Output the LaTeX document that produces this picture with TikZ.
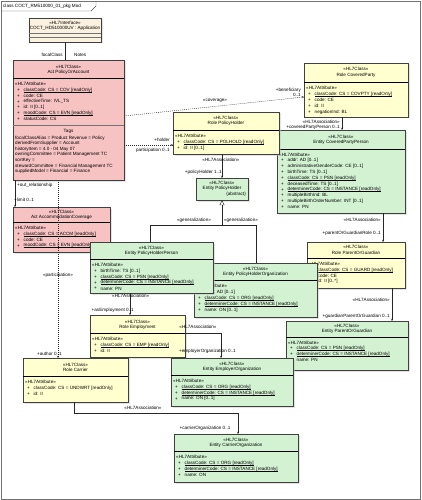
\documentclass[tikz,border=0pt]{standalone}
\usepackage{fontspec}
\setmainfont{Liberation Sans}
\usetikzlibrary{shadows,calc,positioning,arrows.meta}

\definecolor{ifacefill}{HTML}{FBF1DF}
\definecolor{actfill}{HTML}{F6C2C2}
\definecolor{rolefill}{HTML}{FFFFCF}
\definecolor{entfill}{HTML}{D2F2D2}

\tikzset{
  classbox/.style={draw=black!75, line width=.4pt, inner sep=0pt,
    drop shadow={shadow xshift=1.5pt, shadow yshift=-1.5pt, fill=black!22}},
  txt/.style={font=\fontsize{4.6}{5}\selectfont, inner sep=0pt},
  attr/.style={txt, anchor=west},
  sepline/.style={draw=black!55, line width=.3pt},
  hdrline/.style={draw=black, line width=.6pt},
  assoc/.style={draw=black!85, line width=.4pt, -{To[length=2.2pt,width=2.4pt]}},
  partic/.style={assoc, dash pattern=on 1pt off 1pt},
  genline/.style={draw=black!85, line width=.4pt},
}

% thin underline for static attributes
\newcommand\ulin[1]{\setbox0\hbox{#1}\leavevmode\rlap{\rule[-0.8pt]{\wd0}{0.3pt}}\box0}
% class box from its corners
\newcommand\umlbox[6]{%
  \node[classbox, fill=#2, minimum width={(#5-#3)*1pt}, minimum height={(#6-#4)*1pt}]
    (#1) at ({(#3+#5)/2},{(#4+#6)/2}) {};}
% attribute rows: left x, first y, list
\newcommand\attrrows[3]{%
  \foreach \t [count=\i from 0] in {#3} {
    \node[attr] at (#1+4,#2+\i*5.85) {+};
    \node[attr] at (#1+10.5,#2+\i*5.85) {\t};
  }}

\begin{document}
\begin{tikzpicture}[x=1pt,y=-1pt]
\useasboundingbox (0,0) rectangle (421,500);
% frame
\draw[black!55, line width=.7pt] (1,1) rectangle (420,499);
\draw[black!70, line width=.4pt] (1,11) -- (91,11) -- (96,6) -- (96,1);
\node[attr] (frametitle) at (3,6) {class COCT\_RM510000\_01\_pkg Mod};

% boxes
\umlbox{iface}{ifacefill}{29}{18}{101}{42}
\node[txt] at (65,23) {«HL7Interface»};
\node[txt] at (65,28.5) {COCT\_HD510000UV : Application};
\draw[sepline] (29,33) -- (101,33);
\draw[sepline] (29,37) -- (101,37);

\umlbox{polAcct}{actfill}{13}{60}{124}{180}
\node[txt] at (68.5,67) {«HL7Class»};
\node[txt] at (68.5,72.5) {Act PolicyOrAccount};
\draw[hdrline] (13,78) -- (124,78);
\node[attr] at (15,84) {«HL7Attribute»};
\attrrows{13}{90}{\ulin{classCode: CS = COV [readOnly]}, code: CE, effectiveTime: IVL\_TS,
  {id: II [0..1]}, \ulin{moodCode: CS = EVN [readOnly]}, statusCode: CS}
\draw[sepline] (13,125) -- (124,125);
\node[txt] at (68.5,131) {Tags};
\foreach \t [count=\i from 0] in {focalClassAlias = Product Revenue = Policy,
    derivedFromSupplier = Account,
    historyItem = 4.0 - 04 May 07,
    owningCommittee = Patient Management TC,
    sortKey =,
    stewardCommittee = Financial Management TC,
    suppliedModel = Financial = Finance}
  \node[attr] at (15,138+\i*5.6) {\t};

\umlbox{accom}{actfill}{13}{207}{110}{252}
\node[txt] at (61.5,212) {«HL7Class»};
\node[txt] at (61.5,217.5) {Act AccommodationCoverage};
\draw[hdrline] (13,222) -- (110,222);
\node[attr] at (15,228) {«HL7Attribute»};
\attrrows{13}{234}{\ulin{classCode: CS = ACCM [readOnly]}, code: CE, \ulin{moodCode: CS = EVN [readOnly]}}

\umlbox{roleCov}{rolefill}{304}{63}{408}{117}
\node[txt] at (356,69) {«HL7Class»};
\node[txt] at (356,75) {Role CoveredParty};
\draw[hdrline] (304,82) -- (408,82);
\node[attr] at (306,88) {«HL7Attribute»};
\attrrows{304}{94.5}{\ulin{classCode: CS = COVPTY [readOnly]}, code: CE, id: II, negationInd: BL}

\umlbox{covPerson}{entfill}{277}{130}{405}{213}
\node[txt] at (341,137) {«HL7Class»};
\node[txt] at (341,142.5) {Entity CoveredPartyPerson};
\draw[hdrline] (277,149) -- (405,149);
\node[attr] at (279,154.5) {«HL7Attribute»};
\attrrows{277}{160.5}{{addr: AD [0..1]}, {administrativeGenderCode: CE [0..1]}, {birthTime: TS [0..1]},
  \ulin{classCode: CS = PSN [readOnly]}, {deceasedTime: TS [0..1]},
  \ulin{determinerCode: CS = INSTANCE [readOnly]}, multipleBirthInd: BL,
  {multipleBirthOrderNumber: INT [0..1]}, name: PN}

\umlbox{rolePH}{rolefill}{173}{112}{279}{154}
\node[txt] at (226,118) {«HL7Class»};
\node[txt] at (226,123.5) {Role PolicyHolder};
\draw[hdrline] (173,130) -- (279,130);
\node[attr] at (175,136) {«HL7Attribute»};
\attrrows{173}{142}{\ulin{classCode: CS = POLHOLD [readOnly]}, {id: II [0..1]}}

\umlbox{entPH}{entfill}{196}{178}{248}{200}
\node[txt] at (222,183) {«HL7Class»};
\node[txt] at (222,188.5) {Entity PolicyHolder};
\node[txt, anchor=east] at (246,194.5) {\{abstract\}};

\umlbox{roleGuard}{rolefill}{307}{242}{405}{288}
\node[txt] at (356,247) {«HL7Class»};
\node[txt] at (356,252.5) {Role ParentOrGuardian};
\draw[hdrline] (307,258) -- (405,258);
\node[attr] at (309,264) {«HL7Attribute»};
\attrrows{307}{270}{\ulin{classCode: CS = GUARD [readOnly]}, code: CE, {id: II [0..*]}}

\umlbox{phOrg}{entfill}{194}{263}{317}{317}
\node[txt] at (255.5,268.5) {«HL7Class»};
\node[txt] at (255.5,274) {Entity PolicyHolderOrganization};
\draw[hdrline] (194,280) -- (317,280);
\node[attr] at (196,286) {«HL7Attribute»};
\attrrows{194}{292.5}{{addr: AD [0..1]}, \ulin{classCode: CS = ORG [readOnly]},
  \ulin{determinerCode: CS = INSTANCE [readOnly]}, {name: ON [0..1]}}

\umlbox{phPerson}{entfill}{90}{242}{213}{293}
\node[txt] at (151.5,247.5) {«HL7Class»};
\node[txt] at (151.5,253) {Entity PolicyHolderPerson};
\draw[hdrline] (90,259) -- (213,259);
\node[attr] at (92,265) {«HL7Attribute»};
\attrrows{90}{271}{{birthTime: TS [0..1]}, \ulin{classCode: CS = PSN [readOnly]},
  \ulin{determinerCode: CS = INSTANCE [readOnly]}, name: PN}

\umlbox{guardEnt}{entfill}{286}{321}{408}{370}
\node[txt] at (347,326) {«HL7Class»};
\node[txt] at (347,331.5) {Entity ParentOrGuardian};
\draw[hdrline] (286,337) -- (408,337);
\node[attr] at (288,342.5) {«HL7Attribute»};
\attrrows{286}{348.5}{\ulin{classCode: CS = PSN [readOnly]},
  \ulin{determinerCode: CS = INSTANCE [readOnly]}, name: PN}

\umlbox{employ}{rolefill}{90}{315}{185}{357}
\node[txt] at (137.5,321.5) {«HL7Class»};
\node[txt] at (137.5,327) {Role Employment};
\draw[hdrline] (90,333) -- (185,333);
\node[attr] at (92,339) {«HL7Attribute»};
\attrrows{90}{345.5}{\ulin{classCode: CS = EMP [readOnly]}, id: II}

\umlbox{employer}{entfill}{171}{358}{293}{406}
\node[txt] at (232,364) {«HL7Class»};
\node[txt] at (232,369.5) {Entity EmployerOrganization};
\draw[hdrline] (171,375) -- (293,375);
\node[attr] at (173,381) {«HL7Attribute»};
\attrrows{171}{387}{\ulin{classCode: CS = ORG [readOnly]},
  \ulin{determinerCode: CS = INSTANCE [readOnly]}, {name: ON [0..1]}}

\umlbox{carrier}{rolefill}{23}{358}{128}{402}
\node[txt] at (75.5,364.5) {«HL7Class»};
\node[txt] at (75.5,370) {Role Carrier};
\draw[hdrline] (23,376) -- (128,376);
\node[attr] at (25,382) {«HL7Attribute»};
\attrrows{23}{388}{classCode: CS = UNDWRT [readOnly], id: II}

\umlbox{carrierOrg}{entfill}{174}{434}{298}{482}
\node[txt] at (236,440) {«HL7Class»};
\node[txt] at (236,445.5) {Entity CarrierOrganization};
\draw[hdrline] (174,451) -- (298,451);
\node[attr] at (176,457) {«HL7Attribute»};
\attrrows{174}{463}{\ulin{classCode: CS = ORG [readOnly]},
  \ulin{determinerCode: CS = INSTANCE [readOnly]}, {name: ON}}

% connectors
\draw[genline] (iface.south) -- (iface.south |- polAcct.north);
\node[txt, anchor=east] at (63,55) {focalClass};
\node[txt, anchor=west] at (74,55) {Notes};

\draw[partic] (polAcct.east |- 0,116) -- (roleCov.west |- 0,97);
\node[txt] at (215,101) {«coverage»};
\node[txt, anchor=east] at (301,90) {+beneficiary};
\node[txt, anchor=east] at (301,94.5) {0..1};

\draw[partic] (polAcct.east |- 0,145) -- (rolePH.west |- 0,145);
\node[txt, anchor=east] at (170,140) {+holder};
\node[txt, anchor=east] at (170,150) {participation 0..1};

\draw[assoc] (rolePH.south -| entPH.north) -- (entPH.north);
\node[txt] at (221,160) {«HL7Association»};
\node[txt, anchor=east] at (222,172) {+policyHolder 1..1};

\coordinate (genjoin) at (222,225);
\draw[genline, -{Triangle[open, length=5pt, width=5pt]}] (genjoin) -- (entPH.south);
\draw[genline] (genjoin) -| (phPerson.north -| 150,0);
\draw[genline] (genjoin) -| (phOrg.north -| 256,0);
\node[txt] at (194,220) {«generalization»};
\node[txt] at (241,220) {«generalization»};

\draw[assoc] (roleCov.south -| 342,0) -- (covPerson.north -| 342,0);
\node[txt, anchor=east] at (340,121.5) {«HL7Association»};
\node[txt, anchor=east] at (340,127) {+coveredPartyPerson 0..1};

\draw[assoc] (covPerson.south -| 383,0) -- (roleGuard.north -| 383,0);
\node[txt, anchor=east] at (381,220) {«HL7Association»};
\node[txt, anchor=east] at (381,233) {+parentOrGuardianRole 0..1};

\draw[assoc] (roleGuard.south -| 392,0) -- (guardEnt.north -| 392,0);
\node[txt, anchor=east] at (390,300) {«HL7Association»};
\node[txt, anchor=east] at (390,316) {+guardianParentOrGuardian 0..1};

\draw[assoc] (phPerson.south -| 130,0) -- (employ.north -| 130,0);
\node[txt, anchor=west] at (112,296) {«HL7Association»};
\node[txt, anchor=east] at (134,310.5) {+asEmployment 0..1};

\draw[assoc] (employ.east |- 0,333) -| (employer.north -| 221,0);
\node[txt] at (198,327) {«HL7Association»};
\node[txt, anchor=east] at (236,351) {+employerOrganization 0..1};

\draw[assoc] (polAcct.south -| 15,0) -- (accom.north -| 15,0);
\node[txt, anchor=west] at (17,185) {+out\_relationship};
\node[txt, anchor=west] at (14,200) {+limit 0..1};

\draw[partic] (polAcct.south -| 58,0) -- (carrier.north -| 58,0);
\node[txt] at (58,275) {«participation»};
\node[txt, anchor=east] at (62,353.5) {+author 0..1};

\draw[assoc] (carrier.south -| 74,0) -- (74,413) -| (carrierOrg.north -| 238,0);
\node[txt] at (143,408) {«HL7Association»};
\node[txt] at (205,428) {+carrierOrganization 0..1};
\end{tikzpicture}
\end{document}
